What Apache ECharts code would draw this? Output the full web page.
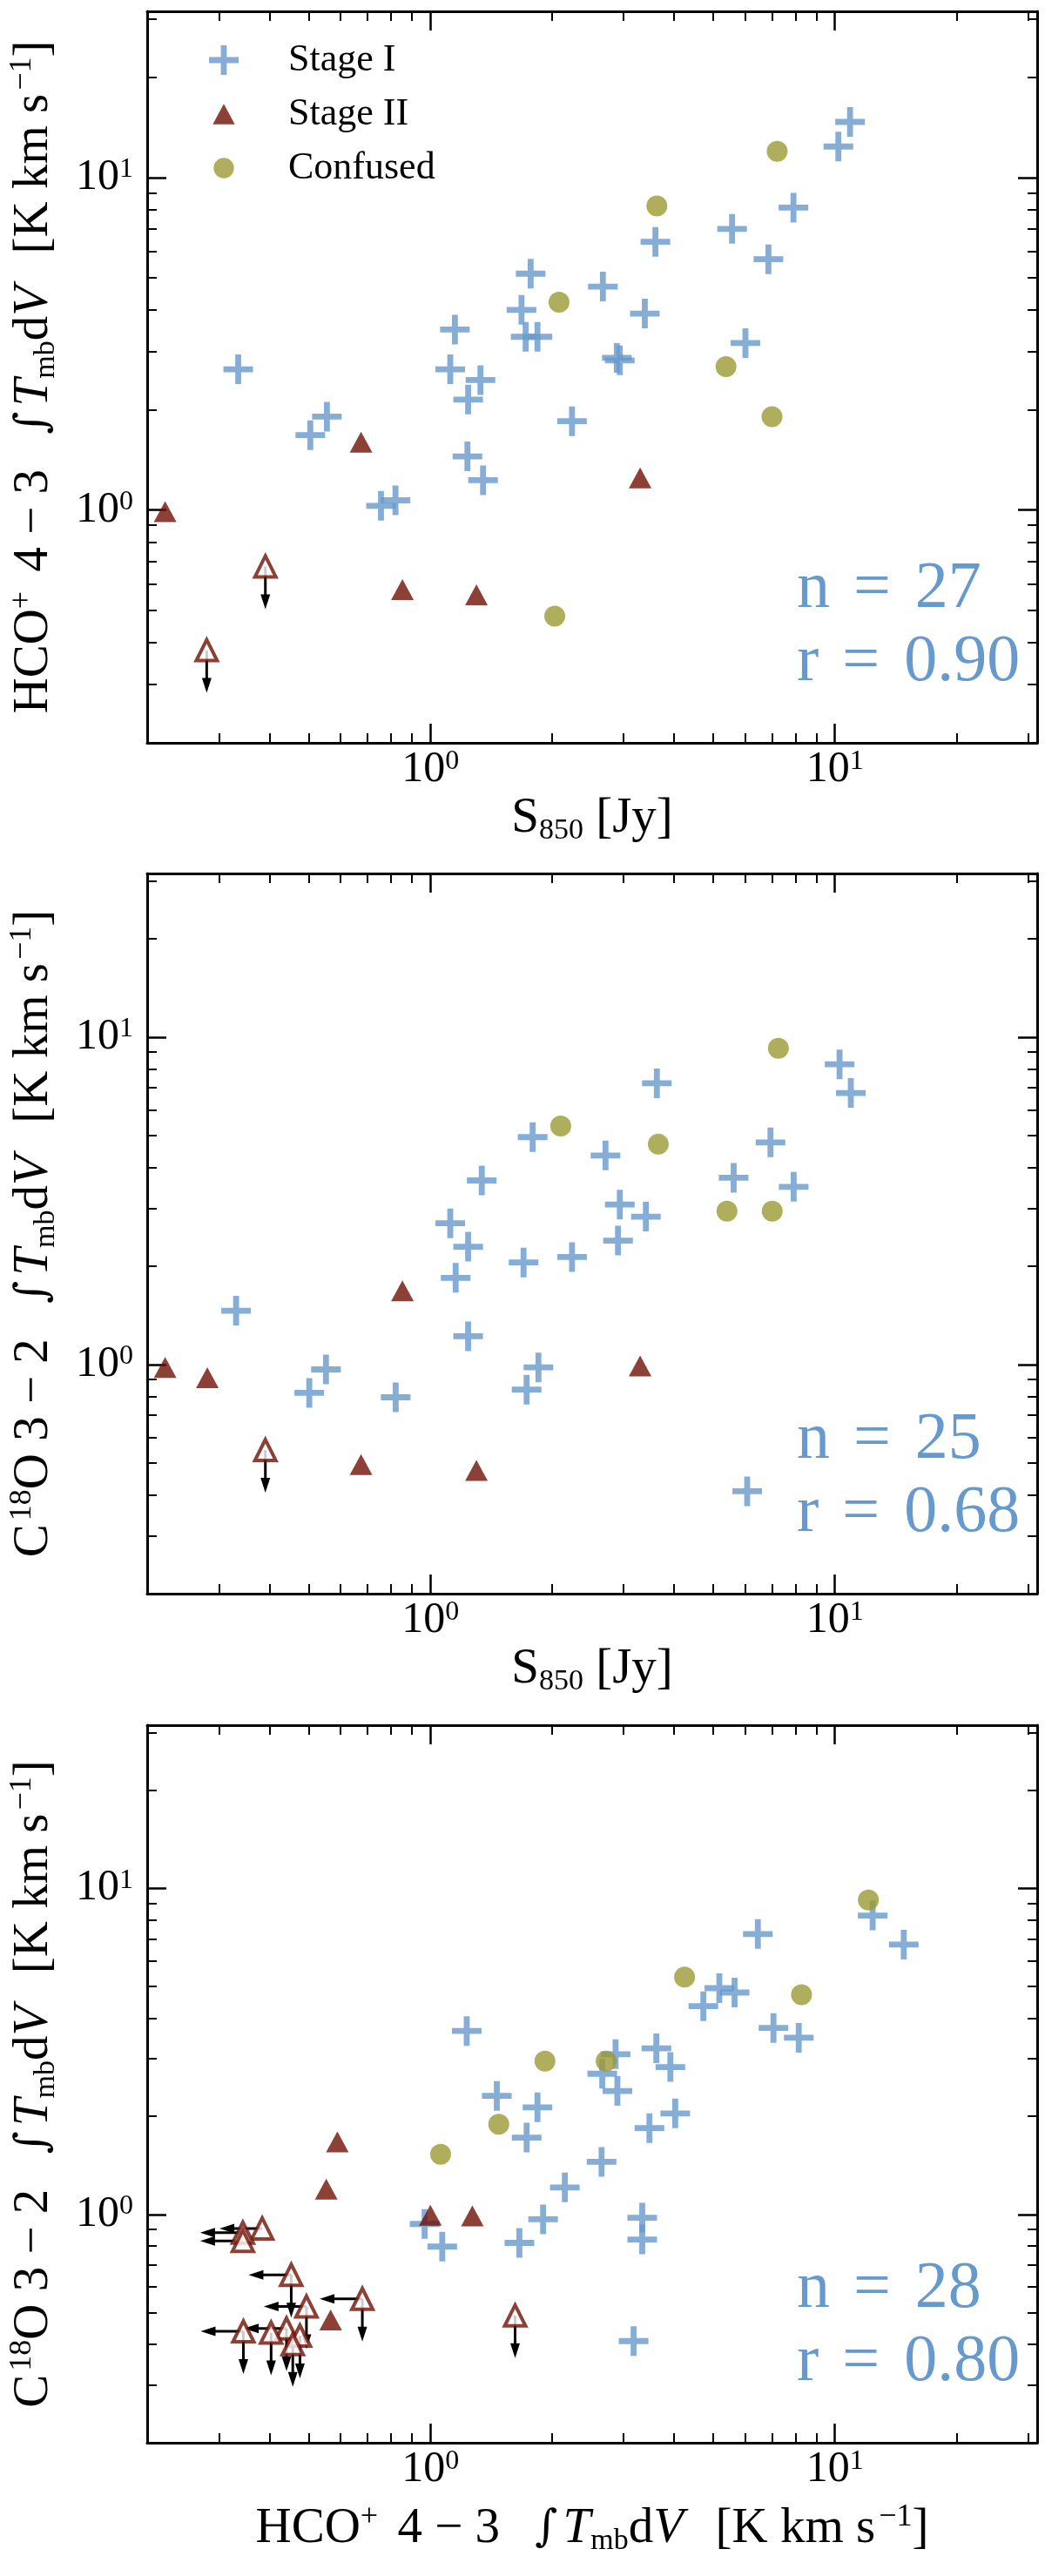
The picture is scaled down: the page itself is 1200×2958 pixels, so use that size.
<!DOCTYPE html>
<html><head><meta charset="utf-8">
<script src="https://cdn.jsdelivr.net/npm/echarts@6/dist/echarts.min.js"></script>
<style>html,body{margin:0;padding:0;background:#fff}#c{width:1200px;height:2958px}</style>
</head><body><div id="c"></div><script>
// ---------- DATA ----------
// Panel 1: S850 [Jy] vs HCO+ 4-3 integrated intensity [K km/s]
const p1StageI = [[0.335,2.65],[0.555,1.91],[0.505,1.68],[1.15,3.49],[1.12,2.65],[1.33,2.46],[1.24,2.15],[10.9,14.7],[10.2,12.4],[7.9,8.12],[5.57,7.01],[3.60,6.41],[6.85,5.68],[1.77,5.14],[2.67,4.70],[1.68,4.00],[1.72,3.32],[1.84,3.32],[3.39,3.90],[2.89,2.87],[2.94,2.82],[6.01,3.18],[2.24,1.85],[1.235,1.45],[1.35,1.23],[0.755,1.03],[0.82,1.07]];
const p1StageII = [[0.674,1.60],[3.30,1.25],[0.221,0.99],[0.853,0.577],[1.30,0.556]];
const p1Confused = [[7.2,12.0],[3.63,8.22],[2.08,4.22],[5.38,2.70],[6.99,1.91],[2.03,0.48]];
// upper limits: [x, y, downArrow, leftArrow]
const p1Limits = [[0.391,0.677,1,0],[0.280,0.379,1,0]];

// Panel 2: S850 [Jy] vs C18O 3-2 integrated intensity
const p2StageI = [[10.27,8.26],[10.95,6.75],[3.63,7.23],[1.79,4.95],[2.71,4.35],[6.93,4.77],[1.34,3.65],[5.62,3.72],[7.91,3.49],[2.94,3.08],[3.41,2.83],[1.12,2.70],[2.91,2.39],[1.24,2.29],[1.70,2.05],[2.24,2.13],[1.155,1.84],[0.331,1.46],[1.24,1.22],[1.85,0.98],[0.552,0.966],[0.502,0.819],[0.821,0.794],[1.73,0.838],[6.07,0.41]];
const p2StageII = [[0.221,0.98],[0.281,0.912],[3.30,0.99],[0.853,1.68],[0.674,0.495],[1.30,0.475]];
const p2Confused = [[7.25,9.24],[2.10,5.35],[3.66,4.71],[5.41,2.94],[7.0,2.94]];
const p2Limits = [[0.391,0.548,1,0]];

// Panel 3: HCO+ 4-3 vs C18O 3-2 integrated intensity
const p3StageI = [[12.4,8.25],[14.8,6.72],[6.45,7.24],[5.18,4.94],[5.65,4.79],[4.73,4.35],[1.23,3.65],[7.05,3.73],[8.14,3.48],[3.62,3.23],[2.87,3.10],[3.92,2.83],[2.66,2.70],[2.90,2.39],[1.46,2.31],[1.84,2.13],[1.73,1.72],[4.03,2.04],[3.48,1.84],[2.65,1.45],[2.15,1.21],[1.90,0.966],[1.66,0.818],[0.968,0.935],[1.07,0.797],[3.34,0.977],[3.34,0.838],[3.18,0.409]];
const p3StageII = [[0.589,1.67],[0.553,1.195],[1.0,0.994],[1.27,0.99],[0.567,0.475]];
const p3Confused = [[12.1,9.2],[4.25,5.34],[8.27,4.72],[1.92,2.95],[2.72,2.95],[1.06,1.53],[1.476,1.89]];
const p3Limits = [[0.384,0.906,0,1],[0.344,0.879,0,1],[0.344,0.83,0,1],[0.345,0.438,1,1],[0.441,0.447,1,1],[0.494,0.522,1,1],[0.453,0.653,1,1],[0.679,0.551,1,1],[0.404,0.434,1,0],[0.476,0.425,1,0],[0.457,0.40,1,0],[1.62,0.49,1,0]];

const statsN = ['27','25','28'];
const statsR = ['0.90','0.68','0.80'];

const majorTicks = [1, 10];
const minorTicks = [0.3,0.4,0.5,0.6,0.7,0.8,0.9,2,3,4,5,6,7,8,9,20,30];
const legendNames = ['Stage I','Stage II','Confused'];

// ---------- STYLE ----------
const FONT = '"Liberation Serif", "DejaVu Serif", serif';
const BLUE = '#6699cc', RED = '#6f1004', OLIVE = '#9a9a33';
const EXP_MIN = -0.7, EXP_MAX = 1.5;
const LOG_MIN = Math.pow(10, EXP_MIN), LOG_MAX = Math.pow(10, EXP_MAX);
const PLUS = 'path://M40,0H60V40H100V60H60V100H40V60H0V40H40Z';
const TRI_ICON = 'path://M0,0M35,35M4.5,29.5L17.5,5.5L30.5,29.5Z';
const CIRC_ICON = 'path://M0,0M35,35M5.5,17.5A12,12,0,1,1,29.5,17.5A12,12,0,1,1,5.5,17.5Z';

const grids = [
  {left:168, right:9, top:13, height:840},
  {left:168, right:9, top:1003, height:827},
  {left:168, right:9, top:1981, height:824}
];

const tickRich = {
  b:{fontFamily:FONT, fontSize:50, lineHeight:50, color:'#000'},
  s:{fontFamily:FONT, fontSize:32, lineHeight:32, verticalAlign:'top', color:'#000'}
};
const nameRich = {
  r:{fontFamily:FONT, fontSize:57, lineHeight:62, color:'#000'},
  br:{fontFamily:FONT, fontSize:57, lineHeight:62, color:'#000', padding:[0,0,0,8]},
  it:{fontFamily:FONT, fontSize:57, lineHeight:62, fontStyle:'italic', color:'#000'},
  int:{fontFamily:'"DejaVu Serif", serif', fontSize:50, lineHeight:62, color:'#000', padding:[0,6,0,12]},
  sup:{fontFamily:FONT, fontSize:36, lineHeight:38, verticalAlign:'top', color:'#000', padding:[0,0,0,4]},
  supp:{fontFamily:FONT, fontSize:36, lineHeight:38, verticalAlign:'top', color:'#000', padding:[0,8,0,0]},
  sub:{fontFamily:FONT, fontSize:34, lineHeight:26, verticalAlign:'bottom', color:'#000'}
};
// tick-decoration axes live in log10 space, labels show 10^k
const fmt = v => '{b|10}{s|' + Math.round(v) + '}';

const nameHCO = '{r|HCO}{supp|+}{r| 4 − 3  }{int|∫}{it|T}{sub|mb}{r|d}{it|V}{br|  [K km s}{sup|−1}{r|]}';
const nameC18O = '{r|C}{sup|18}{r|O 3 − 2  }{int|∫}{it|T}{sub|mb}{r|d}{it|V}{br|  [K km s}{sup|−1}{r|]}';
const nameS850 = '{r|S}{sub|850}{r| [Jy]}';

const xNames = [nameS850, nameS850, nameHCO];
const yNames = [nameHCO, nameC18O, nameC18O];
const xGaps = [56, 56, 68];
const AXES_PER_DIM = 5;

function axesFor(dim, g) {
  const isX = dim === 'x';
  const pos = isX ? ['bottom','top'] : ['left','right'];
  // data axis: logarithmic, hidden (used for mark placement)
  const list = [{type:'log', logBase:10, min:LOG_MIN, max:LOG_MAX, gridIndex:g, position:pos[0], show:false,
                 axisLine:{onZero:false}, splitLine:{show:false}}];
  pos.forEach((p, k) => {
    const base = {type:'value', min:EXP_MIN, max:EXP_MAX, gridIndex:g, position:p,
      splitLine:{show:false}, minorTick:{show:false}, axisPointer:{show:false}, silent:true};
    const major = Object.assign({}, base, {
      axisLine:{show:true, onZero:false, lineStyle:{color:'#000', width:3}},
      axisTick:{show:true, inside:true, length:22, lineStyle:{color:'#000', width:2.5},
                customValues:majorTicks.map(Math.log10)},
      axisLabel: k === 0 ? {show:true, customValues:majorTicks.map(Math.log10), formatter:fmt, rich:tickRich,
                            margin: isX ? 6 : 16}
                         : {show:false}
    });
    if (k === 0) {
      major.name = isX ? xNames[g] : yNames[g];
      major.nameLocation = 'middle';
      major.nameGap = isX ? xGaps[g] : 99;
      major.nameTextStyle = {rich:nameRich, fontFamily:FONT, fontSize:57};
      if (!isX) major.nameRotate = 90;
    }
    list.push(major);
    list.push(Object.assign({}, base, {
      axisLine:{show:false, onZero:false},
      axisTick:{show:true, inside:true, length:11, lineStyle:{color:'#000', width:2},
                customValues:minorTicks.map(Math.log10)},
      axisLabel:{show:false}
    }));
  });
  return list;
}

function arrowRender(params, api) {
  const p = api.coord([api.value(0), api.value(1)]);
  const dir = api.value(2);
  const L = 49, HL = 17, HW = 5.5;
  let line, head;
  if (dir === 0) {
    const ty = p[1] + L;
    line = {x1:p[0], y1:p[1], x2:p[0], y2:ty - HL + 2};
    head = [[p[0], ty], [p[0]-HW, ty-HL], [p[0]+HW, ty-HL]];
  } else {
    const tx = p[0] - L;
    line = {x1:p[0], y1:p[1], x2:tx + HL - 2, y2:p[1]};
    head = [[tx, p[1]], [tx+HL, p[1]-HW], [tx+HL, p[1]+HW]];
  }
  return {type:'group', children:[
    {type:'line', shape:line, style:{stroke:'#000', lineWidth:3}},
    {type:'polygon', shape:{points:head}, style:{fill:'#000'}}
  ]};
}

const panels = [
  {I:p1StageI, II:p1StageII, C:p1Confused, L:p1Limits},
  {I:p2StageI, II:p2StageII, C:p2Confused, L:p2Limits},
  {I:p3StageI, II:p3StageII, C:p3Confused, L:p3Limits}
];

const xAxis = [], yAxis = [], series = [], graphic = [];
panels.forEach((pn, g) => {
  xAxis.push(...axesFor('x', g));
  yAxis.push(...axesFor('y', g));
  const ax = {xAxisIndex:AXES_PER_DIM*g, yAxisIndex:AXES_PER_DIM*g};
  const arrows = [];
  pn.L.forEach(r => { if (r[2]) arrows.push([r[0], r[1], 0]); if (r[3]) arrows.push([r[0], r[1], 1]); });
  series.push(Object.assign({type:'custom', name:'limits', renderItem:arrowRender, data:arrows,
    encode:{x:0, y:1}, clip:false, z:3, silent:true}, ax));
  series.push(Object.assign({type:'scatter', name:'Stage II limits', data:pn.L.map(r => [r[0], r[1]]),
    symbol:'triangle', symbolSize:[24,24],
    itemStyle:{color:'#fff', borderColor:RED, borderWidth:4}, z:4, silent:true}, ax));
  series.push(Object.assign({type:'scatter', name:'Stage I', data:pn.I, symbol:PLUS, symbolSize:34,
    itemStyle:{color:BLUE}, z:5, silent:true}, ax));
  series.push(Object.assign({type:'scatter', name:'Stage II', data:pn.II, symbol:'triangle', symbolSize:[26,24],
    itemStyle:{color:RED}, z:5, silent:true}, ax));
  series.push(Object.assign({type:'scatter', name:'Confused', data:pn.C, symbol:'circle', symbolSize:24,
    itemStyle:{color:OLIVE}, z:5, silent:true}, ax));

  const bottom = grids[g].top + grids[g].height;
  const statRich = {
    a:{fontFamily:FONT, fontSize:76, fill:BLUE, color:BLUE},
    e:{fontFamily:FONT, fontSize:76, fill:BLUE, color:BLUE, padding:[0,28,0,27]}
  };
  graphic.push({type:'text', x:915, y:bottom - 176, silent:true, z:10,
    style:{text:'{a|n}{e|=}{a|' + statsN[g] + '}', rich:statRich, fill:BLUE, verticalAlign:'middle', align:'left'}});
  graphic.push({type:'text', x:915, y:bottom - 92, silent:true, z:10,
    style:{text:'{a|r}{e|=}{a|' + statsR[g] + '}', rich:statRich, fill:BLUE, verticalAlign:'middle', align:'left'}});
});

const option = {
  animation:false,
  backgroundColor:'#fff',
  grid: grids,
  xAxis, yAxis, series, graphic,
  legend:{
    data:[{name:legendNames[0], icon:PLUS},{name:legendNames[1], icon:TRI_ICON},{name:legendNames[2], icon:CIRC_ICON}],
    orient:'vertical', left:235, top:42, itemWidth:34, itemHeight:34, itemGap:18,
    selectedMode:false,
    textStyle:{fontFamily:FONT, fontSize:44, lineHeight:44, color:'#000', padding:[0,0,0,52]}
  }
};
const chart = echarts.init(document.getElementById('c'), null, {renderer:'canvas'});
chart.setOption(option);
</script></body></html>
